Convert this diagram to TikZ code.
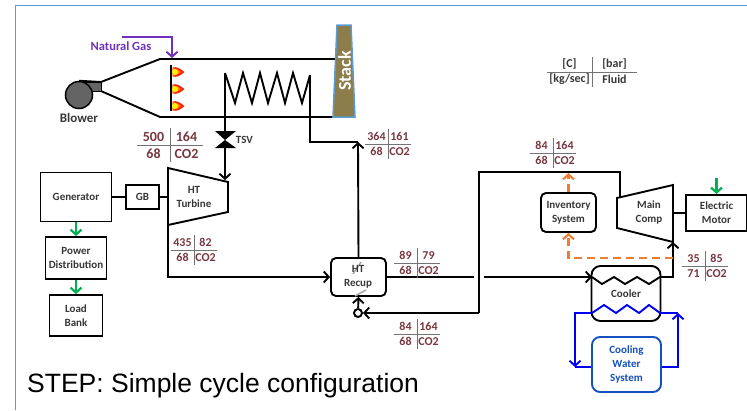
\documentclass[tikz,border=0pt]{standalone}
\usepackage{fontspec}
\setmainfont{Carlito}
\newfontfamily\capfont{Liberation Sans}
\usepackage{xcolor}
\usetikzlibrary{arrows.meta, positioning, calc, shapes.geometric}
\definecolor{stepframe}{RGB}{91,155,213}
\definecolor{steplabel}{RGB}{55,55,55}
\definecolor{stepdata}{RGB}{120,55,65}
\definecolor{stepgas}{RGB}{112,48,190}
\definecolor{stepgreen}{RGB}{0,176,80}
\definecolor{steporange}{RGB}{237,125,49}
\definecolor{stepblue}{RGB}{0,0,240}
\definecolor{stepwater}{RGB}{20,80,190}
\definecolor{stepstack}{RGB}{140,125,75}
\definecolor{stepgray}{RGB}{100,100,100}
\tikzset{
  pipe/.style={draw=black, line width=1.9pt, line join=miter},
  pipearrow/.style={pipe, -{Straight Barb[length=5pt,width=11pt,line width=1.9pt]}},
  greenarrow/.style={draw=stepgreen, line width=2.2pt, -{Straight Barb[length=5pt,width=11pt,line width=2.2pt]}},
  orangearrow/.style={draw=steporange, line width=2.1pt, dash pattern=on 8pt off 5pt, -{Straight Barb[length=5pt,width=11pt,line width=2.1pt]}},
  waterpipe/.style={draw=stepblue, line width=1.9pt},
  waterarrow/.style={waterpipe, -{Straight Barb[length=5pt,width=11pt,line width=1.9pt]}},
  label/.style={font=\fontsize{11}{14}\selectfont\bfseries, text=steplabel, align=center, inner sep=0pt},
  unitbox/.style={draw=black, line width=1.9pt, fill=white, label, minimum width=#1},
  roundbox/.style={unitbox=#1, rounded corners=5pt},
  datatext/.style={font=\fontsize{12}{13}\selectfont\bfseries, text=stepdata, inner sep=0pt},
  dataline/.style={draw=gray!90!black, line width=0.9pt}
}
\newcommand{\statetable}[8]{
    \coordinate (#1) at #2;
    \draw[dataline] ([xshift=-#3pt]#1) -- ([xshift=#3pt]#1);
    \draw[dataline] ([yshift=#4pt]#1) -- ([yshift=-#4pt]#1);
    \node[datatext] (#1a) at ([xshift=-#3pt/2,yshift=#4pt/2]#1) {#5};
    \node[datatext] (#1b) at ([xshift=#3pt/2,yshift=#4pt/2]#1) {#6};
    \node[datatext] (#1c) at ([xshift=-#3pt/2,yshift=-#4pt/2]#1) {#7};
    \node[datatext] (#1d) at ([xshift=#3pt/2,yshift=-#4pt/2]#1) {#8};
}
\begin{document}
\begin{tikzpicture}[x=1pt,y=-1pt]
    \useasboundingbox (0,0) rectangle (747,410);
    \draw[stepframe, line width=1pt] (15,410) -- (15,5) -- (747,5);

    \coordinate (furnTL) at (160,59);
    \coordinate (furnBL) at (160,117);
    \coordinate (mouthT) at (101,82);
    \coordinate (mouthB) at (101,91);
    \coordinate (stackTL) at (337,25);
    \coordinate (stackTR) at (351,25);
    \coordinate (stackBR) at (355,117);
    \coordinate (stackBL) at (333,117);
    \coordinate (coilL) at (225,73);
    \coordinate (coilR) at (310,75);
    \coordinate (hotIn) at (358,142);
    \coordinate (turbTL) at (168,168);
    \coordinate (turbTR) at (228,182);
    \coordinate (turbBR) at (228,212);
    \coordinate (turbBL) at (168,225);
    \coordinate (turbIn) at (225,180);
    \coordinate (turbOut) at (168,197);
    \coordinate (compTL) at (673,185);
    \coordinate (compBR) at (673,242);
    \coordinate (compBL) at (617,228);
    \coordinate (compTR) at (617,198);
    \coordinate (compOut) at (673,213);
    \coordinate (coldIn) at (620,197);
    \coordinate (gapL) at (474,277);
    \coordinate (gapR) at (484,277);
    \coordinate (coolIn) at (592,277);
    \coordinate (coolOut) at (660,277);
    \coordinate (waterIn) at (592,313);
    \coordinate (waterOut) at (660,313);
    \coordinate (ngStart) at (122,37);
    \coordinate (ngEnd) at (172,58);
    \coordinate (bleed) at (673,258);

    \fill[stepgray, draw=black, line width=0.8pt] (85,82) rectangle (mouthB);
    \node[circle, draw=black, fill=stepgray, line width=1.5pt, minimum size=27pt, inner sep=0pt] (blower) at (79,95) {};
    \node[label, font=\fontsize{13}{14}\selectfont\bfseries] (blowerlabel) at (79,118) {Blower};
    \draw[pipe] (blower.north) -- (mouthT) -- (furnTL) -- (stackTL |- furnTL);
    \draw[pipe] (mouthB) -- (furnBL) -- (stackBL);

    \fill[stepstack] (stackTL) -- (stackTR) -- (stackBR) -- (stackBL) -- cycle;
    \draw[stepframe, line width=1.5pt] (stackTL) -- (stackTR) -- (stackBR) -- (stackBL) -- cycle;
    \node[font=\fontsize{18}{18}\selectfont\bfseries, text=white, rotate=90, inner sep=0pt] (stack) at (344.5,71) {Stack};

    \node[font=\fontsize{12.5}{14}\selectfont\bfseries, text=stepgas, inner sep=0pt] (natgas) at (121,46) {Natural Gas};
    \draw[stepgas, line width=1.9pt, -{Straight Barb[length=5pt,width=11pt,line width=1.9pt]}] (ngStart) -| (ngEnd);

    \draw[black, line width=2pt] (171,65) -- (171,111);
    \foreach \fy/\fname in {72/flameA,89/flameB,106/flameC} {
      \fill[red!75!orange] (172.5,\fy-4.5) .. controls (177,\fy-5.5) and (179,\fy-4) .. (184.5,\fy) .. controls (180,\fy+4) and (177,\fy+5.5) .. (172.5,\fy+4.5) -- cycle;
      \fill[orange] (172.5,\fy-4) .. controls (176,\fy-4) and (178,\fy-2) .. (181,\fy) .. controls (178,\fy+2) and (176,\fy+4) .. (172.5,\fy+4) -- cycle;
      \node[circle, fill=yellow, minimum size=6pt, inner sep=0pt] (\fname) at (175,\fy) {};
    }

    \draw[pipe] (coilL) -- (235,103) -- (243,73) -- (252,103) -- (260,73) -- (268,103) -- (277,73) -- (285,103) -- (293,73) -- (302,103) -- (coilR);
    \node[inner sep=0pt, minimum size=1pt] (tsv) at (225,140) {};
    \node[label, right=10pt of tsv] (tsvlabel) {TSV};
    \draw[pipe] (coilL) -- (tsv);
    \draw[pipearrow] (tsv) -- (turbIn);
    \fill[black] (215,131) -- (236,131) -- (tsv.center) -- cycle;
    \fill[black] (215,148) -- (236,148) -- (tsv.center) -- cycle;
    \draw[pipe] (coilR) |- (hotIn);

    \node[unitbox=71pt, minimum height=49pt] (gen) at (76,197) {Generator};
    \node[unitbox=33pt, minimum height=24pt] (gb) at (142.5,197) {GB};
    \node[unitbox=61pt, minimum height=42pt] (pwr) at (76,258) {Power\\Distribution};
    \node[unitbox=53pt, minimum height=41pt] (load) at (76,315.5) {Load\\Bank};
    \draw[pipe] (gen) -- (gb);
    \draw[pipe] (gb) -- (turbOut);
    \draw[greenarrow] (gen) -- (pwr);
    \draw[greenarrow] (pwr) -- (load);

    \draw[pipe, fill=white] (turbTL) -- (turbTR) -- (turbBR) -- (turbBL) -- cycle;
    \node[label] (turbine) at (194,197) {HT\\Turbine};

    \node[roundbox=55pt, minimum height=38pt, fill=none] (recup) at (358.5,277) {};
    \draw[gray!70, line width=1.5pt] (361,262) -- (353,274) (366,290) -- (355,296);
    \node[label] (recuplabel) at (358,277) {HT\\Recup};
    \draw[pipearrow] (turbBL) |- (recup.west);
    \draw[pipearrow] (recup.north) -- (hotIn);
    \node[circle, draw=black, line width=1.9pt, fill=white, minimum size=8pt, inner sep=0pt] (mix) at (358,313) {};
    \coordinate (retCorner) at (479,313);
    \draw[pipearrow] (mix) -- (recup.south);
    \draw[pipearrow] (retCorner) -- (mix);
    \draw[pipe] (retCorner) -- (479,172) -| (coldIn);
    \draw[pipe] (recup.east) -- (gapL);
    \draw[pipearrow] (gapR) -- (coolIn);

    \node[roundbox=69pt, minimum height=55pt, rounded corners=9pt] (cooler) at (626,293.5) {Cooler};
    \draw[pipe] (coolIn) -- (602,284) -- (614,277) -- (625,284) -- (637,277) -- (649,284) -- (coolOut);
    \draw[pipearrow] (coolOut) -| (compBR);

    \draw[pipe, fill=white] (compTR) -- (compTL) -- (compBR) -- (compBL) -- cycle;
    \node[label] (comp) at (649,213) {Main\\Comp};
    \node[unitbox=61pt, minimum height=36pt] (motor) at (716.5,213) {Electric\\Motor};
    \coordinate (motorIn) at (716.5,178);
    \draw[pipe] (compOut) -- (motor);
    \draw[greenarrow] (motorIn) -- (motor.north);

    \node[roundbox=55pt, minimum height=39pt] (inv) at (568.5,212.5) {Inventory\\System};
    \coordinate (invTop) at (568.5,173);
    \draw[orangearrow] (inv.north) -- (invTop);
    \draw[orangearrow] (bleed) -| (inv.south);

    \node[roundbox=69pt, minimum height=55pt, rounded corners=8pt, draw=stepwater, text=stepwater] (water) at (626.5,364.5) {Cooling\\Water\\System};
    \coordinate (waterL) at (575,367);
    \coordinate (waterR) at (678,367);
    \draw[waterpipe] (waterIn) -- (604,305) -- (616,313) -- (627,305) -- (639,313) -- (649,305) -- (waterOut);
    \draw[waterarrow] (waterIn) -| (waterL);
    \draw[waterpipe] (waterL) -- (water.west |- waterL);
    \draw[waterarrow] (water.east |- waterR) -| (waterOut -| waterR);
    \draw[waterpipe] (waterOut) -- (waterOut -| waterR);

    \begin{scope}[datatext/.append style={font=\fontsize{14}{15}\selectfont\bfseries}]
      \statetable{tblTurbIn}{(170,145)}{33}{17}{500}{164}{68}{CO2}
    \end{scope}
    \statetable{tblHotIn}{(388,144)}{23}{15}{364}{161}{68}{CO2}
    \statetable{tblTurbOut}{(194,250)}{23}{15}{435}{82}{68}{CO2}
    \statetable{tblRecup}{(417,263)}{23}{15}{89}{79}{68}{CO2}
    \statetable{tblRet}{(417,334)}{23}{15}{84}{164}{68}{CO2}
    \statetable{tblComp}{(553,153)}{23}{15}{84}{164}{68}{CO2}
    \statetable{tblCool}{(705,266)}{23}{15}{35}{85}{71}{CO2}
    \begin{scope}[datatext/.append style={text=steplabel}]
      \statetable{tblKey}{(592,72)}{45}{15}{[C]}{[bar]}{[kg/sec]}{Fluid}
    \end{scope}

    \node[font=\capfont\fontsize{26.5}{28}\selectfont, text=black, anchor=base west, inner sep=0pt] (title) at (27,392) {STEP: Simple cycle configuration};
\end{tikzpicture}
\end{document}
